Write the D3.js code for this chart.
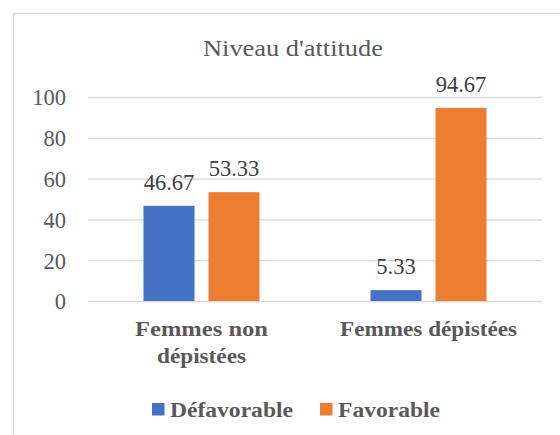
<!DOCTYPE html>
<html>
<head>
<meta charset="utf-8">
<script src="https://cdn.jsdelivr.net/npm/d3@7"></script>
<style>
  body { margin: 0; background: #fff; }
</style>
</head>
<body>
<div id="chart"></div>
<script>
// data
const categories = ['Femmes non dépistées', 'Femmes dépistées']
const categoryLines = [['Femmes non', 'dépistées'], ['Femmes dépistées']]
const seriesNames = ['Défavorable', 'Favorable']
const defavorable = [46.67, 5.33]
const favorable = [53.33, 94.67]
const yTicks = [0, 20, 40, 60, 80, 100]
const colors = ['#4472C4', '#ED7D31']

// widths of text in the picture (its text is a little stretched sideways)
const catLineWidths = [[133, 89], [177]]
const legendWidths = [123, 102]

const FONT = "'Liberation Serif'"
const width = 560, height = 435
const svg = d3.select('#chart').append('svg')
    .attr('width', width)
    .attr('height', height)
    .style('display', 'block')

// chart frame (runs off right and bottom edges)
svg.append('rect')
    .attr('x', 13.5).attr('y', 13.5)
    .attr('width', 600).attr('height', 500)
    .attr('fill', 'none')
    .attr('stroke', '#d9d9d9')
    .attr('stroke-width', 1.5)

const plotLeft = 88, plotRight = 542
let yScale = d3.scaleLinear().domain([0, 100]).range([301, 97])
let x0 = d3.scaleBand().domain(categories).range([plotLeft, plotRight])
let x1 = d3.scaleBand().domain(seriesNames).range([55.5, 171.5]).paddingInner(0.2154)

// title
svg.append('text')
    .attr('x', 293).attr('y', 56)
    .attr('text-anchor', 'middle')
    .style('font-family', FONT)
    .style('font-size', '23.5px')
    .attr('textLength', 180)
    .attr('lengthAdjust', 'spacingAndGlyphs')
    .attr('fill', '#595959')
    .text("Niveau d'attitude")

// gridlines + y labels
let yAxis = d3.axisLeft(yScale).tickValues(yTicks).tickSize(-(plotRight - plotLeft)).tickPadding(22)
let gy = svg.append('g')
    .attr('transform', `translate(${plotLeft},0)`)
    .call(yAxis)
gy.select('.domain').remove()
gy.selectAll('line').attr('stroke', '#d9d9d9').attr('stroke-width', 1.3)
gy.selectAll('text')
    .attr('fill', '#595959')
    .style('font-family', FONT)
    .style('font-size', '22.5px')
    .attr('dy', '0.35em')

// bars
let rows = categories.map((c, i) => ({cat: c, vals: [defavorable[i], favorable[i]]}))
let groups = svg.selectAll('g.cat')
    .data(rows)
    .enter()
    .append('g')
    .attr('class', 'cat')
    .attr('transform', d => `translate(${x0(d.cat)},0)`)

groups.selectAll('rect')
    .data(d => d.vals.map((v, j) => ({name: seriesNames[j], value: v, idx: j})))
    .enter()
    .append('rect')
    .attr('x', d => x1(d.name))
    .attr('y', d => yScale(d.value))
    .attr('width', x1.bandwidth())
    .attr('height', d => yScale(0) - yScale(d.value))
    .attr('fill', d => colors[d.idx])

groups.selectAll('text.lbl')
    .data(d => d.vals.map((v, j) => ({name: seriesNames[j], value: v})))
    .enter()
    .append('text')
    .attr('class', 'lbl')
    .attr('x', d => x1(d.name) + x1.bandwidth() / 2)
    .attr('y', d => yScale(d.value) - 16)
    .attr('text-anchor', 'middle')
    .style('font-family', FONT)
    .style('font-size', '22.5px')
    .attr('fill', '#404040')
    .text(d => d.value.toFixed(2))

// category labels
categories.forEach((c, i) => {
    categoryLines[i].forEach((line, k) => {
        svg.append('text')
            .attr('x', x0(c) + x0.bandwidth() / 2)
            .attr('y', 336 + k * 27)
            .attr('text-anchor', 'middle')
            .style('font-family', FONT)
            .style('font-size', '20px')
            .style('font-weight', 'bold')
            .attr('textLength', catLineWidths[i][k])
            .attr('lengthAdjust', 'spacingAndGlyphs')
            .attr('fill', '#595959')
            .text(line)
    })
})

// legend
let legendX = [152, 320]
seriesNames.forEach((s, i) => {
    svg.append('rect')
        .attr('x', legendX[i]).attr('y', 403)
        .attr('width', 12.5).attr('height', 12.5)
        .attr('fill', colors[i])
    svg.append('text')
        .attr('x', legendX[i] + 18).attr('y', 416.5)
        .style('font-family', FONT)
        .style('font-size', '20px')
        .style('font-weight', 'bold')
        .attr('textLength', legendWidths[i])
        .attr('lengthAdjust', 'spacingAndGlyphs')
        .attr('fill', '#595959')
        .text(s)
})
</script>
</body>
</html>
